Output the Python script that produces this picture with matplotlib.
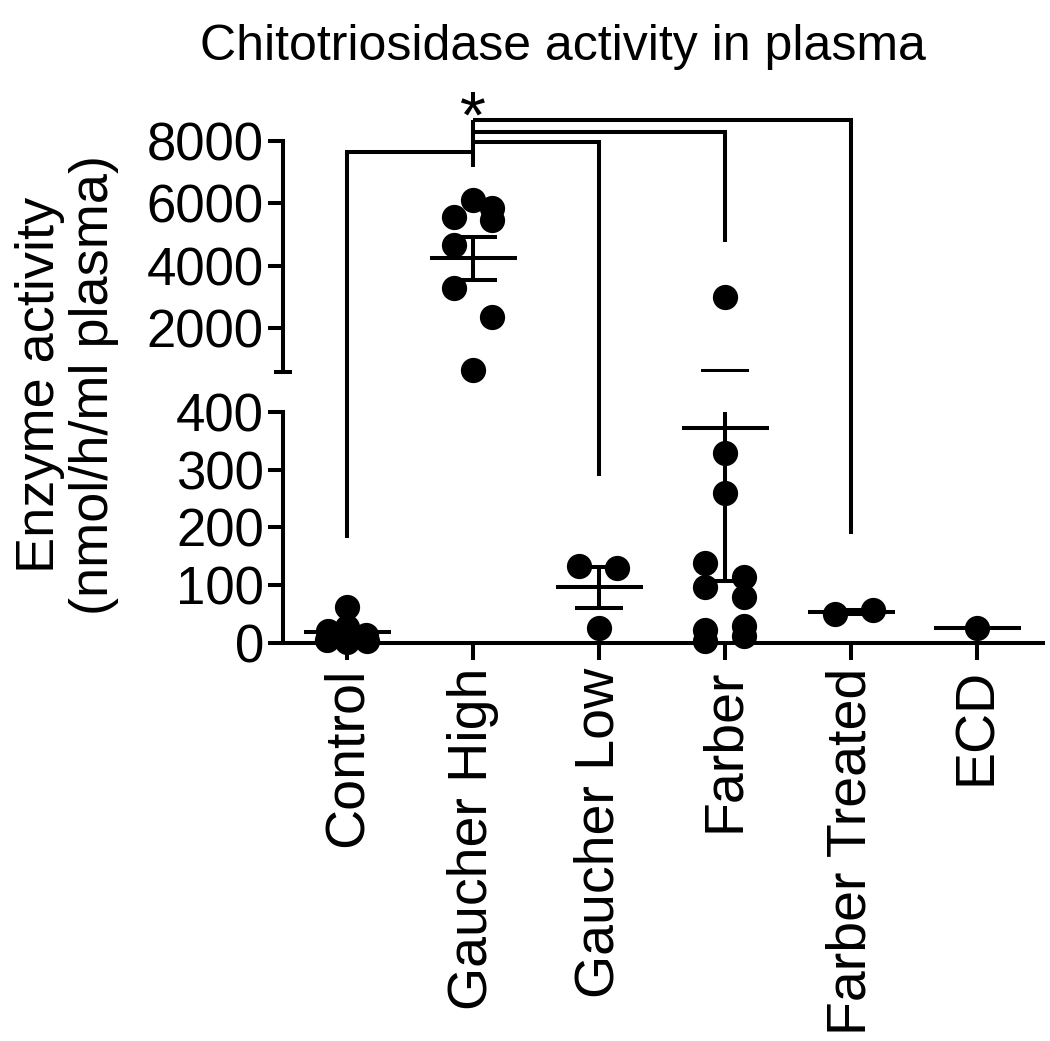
import numpy as np
import matplotlib
matplotlib.use("Agg")
import matplotlib.pyplot as plt
from matplotlib.lines import Line2D

plt.rcParams['font.family'] = ['Liberation Sans', 'DejaVu Sans']

#Data (nmol/h/ml plasma)
groups = ["Control", "Gaucher High", "Gaucher Low", "Farber", "Farber Treated", "ECD"]
control = [62, 28, 20, 14, 10, 6, 4, 2]
gaucher_high = [6100, 5850, 5470, 5560, 4660, 3280, 2350, 640]
gaucher_low = [134, 129, 26]
farber = [3000, 328, 260, 139, 114, 97, 79, 22, 3, 30, 12]
farber_treated = [51, 57]
ecd = [26]
values = [control, gaucher_high, gaucher_low, farber, farber_treated, ecd]

#horizontal spread of the dots so they do not sit on top of each other
spread = [
    [0, 0, -0.15, 0.15, 0, -0.16, 0.16, 0],
    [0, 0.15, 0.15, -0.15, -0.15, -0.15, 0.15, 0],
    [-0.16, 0.14, 0],
    [0, 0, 0, -0.16, 0.15, -0.16, 0.15, -0.16, -0.16, 0.15, 0.15],
    [-0.13, 0.17],
    [0],
]

#axis break
low_lim = (0, 400)
high_lim = (600, 8000)
low_ticks = [0, 100, 200, 300, 400]
high_ticks = [2000, 4000, 6000, 8000]

#significance brackets: all start at Gaucher High
hub = 2
hub_span = (7176, 8673)
# (target group, level on upper axis, which axis the end sits on, end value)
brackets = [(1, 7657, "low", 182),
            (3, 7978, "low", 288),
            (4, 8298, "high", 4768),
            (5, 8673, "low", 189)]

LW = 2.9
DOT = 330

fig = plt.figure(figsize=(10.5, 10.41), dpi=100)
ax_hi = fig.add_axes([0.2695, 0.6429, 0.7238, 0.2217])
ax_lo = fig.add_axes([0.2695, 0.3823, 0.7238, 0.2222])
axes = {"low": ax_lo, "high": ax_hi}

xs = np.arange(1, len(groups) + 1)
for ax, lim in ((ax_lo, low_lim), (ax_hi, high_lim)):
    ax.set_xlim(0.49, 6.52)
    ax.set_ylim(*lim)
    ax.spines['top'].set_visible(False)
    ax.spines['right'].set_visible(False)
    ax.spines['left'].set_linewidth(LW)
    ax.tick_params(axis='y', which='major', direction='out', length=10.8,
                   width=LW, labelsize=38, pad=3)

ax_hi.spines['bottom'].set_visible(False)
ax_hi.set_xticks([])
ax_hi.set_yticks(high_ticks)
ax_hi.set_yticks([600], minor=True)
ax_hi.tick_params(axis='y', which='minor', direction='inout', length=13, width=LW)

ax_lo.spines['bottom'].set_linewidth(LW)
ax_lo.set_yticks(low_ticks)
ax_lo.set_yticks([400], minor=True)
ax_lo.tick_params(axis='y', which='minor', direction='in', length=8.6, width=LW)
ax_lo.set_xticks(xs)
ax_lo.set_xticklabels(groups, rotation=90)
ax_lo.tick_params(axis='x', direction='out', length=12, width=LW, labelsize=40, pad=6)

#dots, mean and SEM
for x, vals, sp in zip(xs, values, spread):
    vals = np.array(vals, dtype=float)
    m = vals.mean()
    sem = vals.std(ddof=1) / np.sqrt(len(vals)) if len(vals) > 1 else 0
    for ax, lim in ((ax_lo, low_lim), (ax_hi, high_lim)):
        ax.plot([x - 0.345, x + 0.345], [m, m], color='black', lw=LW,
                solid_capstyle='butt')
        if sem > 0:
            ax.plot([x, x], [m - sem, m + sem], color='black', lw=LW,
                    solid_capstyle='butt')
            for y in (m - sem, m + sem):
                ax.plot([x - 0.19, x + 0.19], [y, y], color='black', lw=LW,
                        solid_capstyle='butt')
        inside = (vals >= lim[0]) & (vals <= lim[1])
        ax.scatter(x + np.array(sp)[inside], vals[inside], s=DOT, color='black',
                   linewidths=0, clip_on=False, zorder=3)


def fig_xy(ax, x, y):
    return fig.transFigure.inverted().transform(ax.transData.transform((x, y)))


def bracket_line(points):
    pts = np.array([fig_xy(*p) for p in points])
    fig.add_artist(Line2D(pts[:, 0], pts[:, 1], color='black', lw=LW,
                          transform=fig.transFigure, solid_joinstyle='miter',
                          solid_capstyle='butt'))


bracket_line([(ax_hi, hub, hub_span[0]), (ax_hi, hub, hub_span[1])])
for target, level, which, end in brackets:
    bracket_line([(ax_hi, hub, level), (ax_hi, target, level),
                  (axes[which], target, end)])

ax_hi.text(hub, 8120, "*", ha='center', va='baseline', fontsize=48, clip_on=False)

fig.text(0.536, 0.9425, "Chitotriosidase activity in plasma", ha='center',
         va='baseline', fontsize=36)
fig.text(0.064, 0.630, "Enzyme activity\n(nmol/h/ml plasma)", rotation=90,
         ha='center', va='center', multialignment='center', fontsize=39,
         linespacing=1.1)

fig.savefig("out.png", dpi=100)
